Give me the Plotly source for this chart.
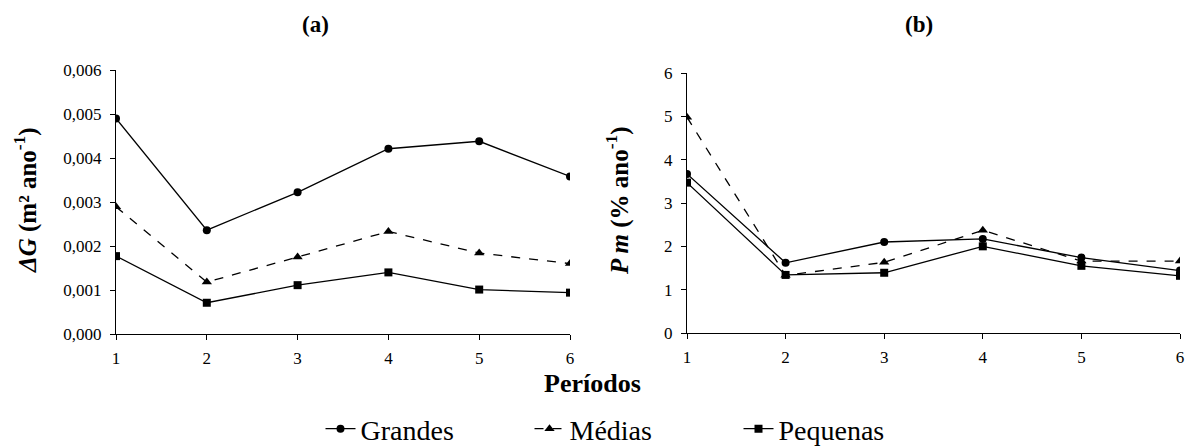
import plotly.graph_objects as go

periodos = [1, 2, 3, 4, 5, 6]

# (a) incremento periódico em área basal (m² ano-1)
dg_grandes = [0.00490, 0.00236, 0.00322, 0.00421, 0.00438, 0.00358]
dg_medias = [0.00289, 0.00118, 0.00175, 0.00233, 0.00184, 0.00160]
dg_pequenas = [0.00177, 0.00071, 0.00111, 0.00140, 0.00101, 0.00094]

# (b) taxa de mortalidade (% ano-1)
pm_grandes = [3.67, 1.62, 2.10, 2.17, 1.74, 1.44]
pm_medias = [4.98, 1.33, 1.63, 2.37, 1.66, 1.66]
pm_pequenas = [3.47, 1.34, 1.39, 2.00, 1.55, 1.32]

dg_ticks = [0, 0.001, 0.002, 0.003, 0.004, 0.005, 0.006]
pm_ticks = [0, 1, 2, 3, 4, 5, 6]

FONT = "Liberation Serif, Times New Roman, serif"
W, H = 1187, 448

series = [
    ("Grandes", dg_grandes, pm_grandes, "circle", "solid", 8),
    ("Médias", dg_medias, pm_medias, "triangle-up", "dash", 9),
    ("Pequenas", dg_pequenas, pm_pequenas, "square", "solid", 8),
]

fig = go.Figure()
for name, ya, yb, sym, dash, msize in series:
    for k, (xa, ya_ax, vals) in enumerate([("x", "y", ya), ("x2", "y2", yb)]):
        fig.add_trace(go.Scatter(
            x=periodos, y=vals, xaxis=xa, yaxis=ya_ax, name=name,
            mode="lines+markers", showlegend=(k == 0), legendgroup=name,
            line=dict(color="black", width=1.3, dash=dash),
            marker=dict(symbol=sym, size=msize, color="black"),
        ))

axis_common = dict(
    showline=True, linecolor="black", linewidth=1, showgrid=False, zeroline=False,
    ticks="outside", tickcolor="black", ticklen=5, tickwidth=1,
    tickfont=dict(family=FONT, size=17, color="black"),
)


def px_x(p):
    return p / W


def px_y(p):
    return 1 - p / H


def label(text, x, y, size, angle=0):
    return dict(text=text, x=px_x(x), y=px_y(y), xref="paper", yref="paper",
                xanchor="center", yanchor="middle", showarrow=False, textangle=angle,
                font=dict(family=FONT, size=size, color="black"))


fig.update_layout(
    width=W, height=H,
    margin=dict(l=0, r=0, t=0, b=0, autoexpand=False),
    paper_bgcolor="white", plot_bgcolor="white",
    separators=",.",
    font=dict(family=FONT, color="black"),
    xaxis=dict(domain=[px_x(116), px_x(570)], range=[1, 6], tickvals=periodos, anchor="y",
               ticklabelstandoff=4, **axis_common),
    yaxis=dict(domain=[px_y(334), px_y(70)], range=[0, 0.006], tickvals=dg_ticks, tickformat=".3f",
               anchor="x", ticklabelstandoff=5, **axis_common),
    xaxis2=dict(domain=[px_x(687), px_x(1180)], range=[1, 6], tickvals=periodos, anchor="y2",
                ticklabelstandoff=4, **axis_common),
    yaxis2=dict(domain=[px_y(333), px_y(73)], range=[0, 6], tickvals=pm_ticks, anchor="x2",
                ticklabelstandoff=5, **axis_common),
    legend=dict(orientation="h", x=px_x(634), xanchor="center", y=px_y(429), yanchor="middle",
                font=dict(family=FONT, size=28), entrywidth=164, bgcolor="rgba(0,0,0,0)",
                tracegroupgap=0),
    annotations=[
        label("<b>(a)</b>", 315, 25, 23),
        label("<b>(b)</b>", 919, 25, 23),
        label("<b>Períodos</b>", 592, 383, 26),
        label("<b><i>ΔG</i> (m² ano<sup>-1</sup>)</b>", 25, 200, 25, -90),
        label("<b><i>P m</i> (% ano<sup>-1</sup>)</b>", 617, 200, 25, -90),
    ],
)

fig.write_html("out.html")
